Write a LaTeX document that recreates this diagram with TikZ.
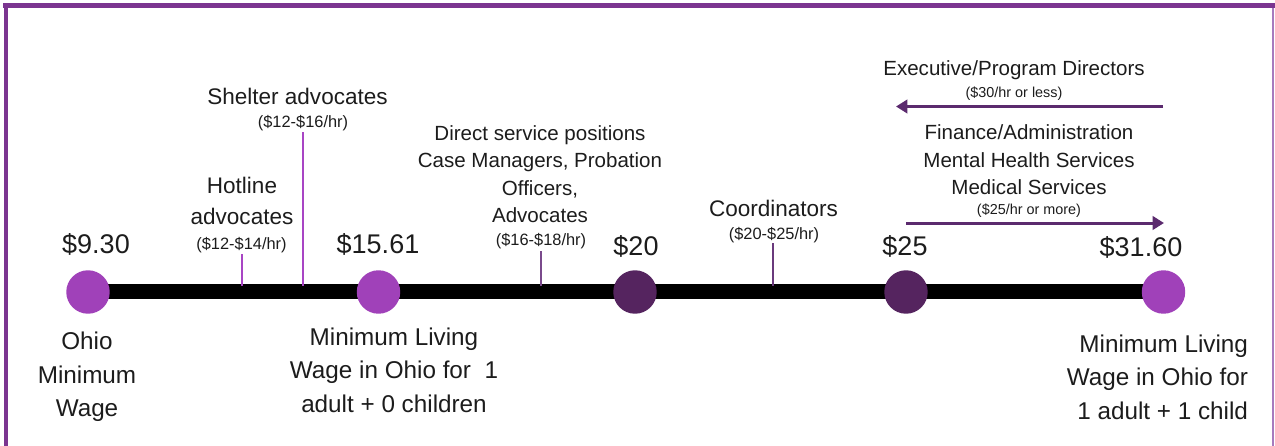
\documentclass[tikz,border=0pt]{standalone}
\usepackage{fontspec}
\setmainfont{Liberation Sans}
\usetikzlibrary{arrows.meta}
\newcommand\myfs[2]{\fontsize{#1}{#2}\selectfont}
\definecolor{frame}{HTML}{7B3590}
\definecolor{frameR}{HTML}{A77BBE}
\definecolor{lightdot}{HTML}{A041B9}
\definecolor{darkdot}{HTML}{55245F}
\definecolor{arrowc}{HTML}{5B2A6E}
\definecolor{tickA}{HTML}{A845C4}
\definecolor{tickB}{HTML}{7A4A8C}
\definecolor{tickC}{HTML}{6A3A7C}
\definecolor{txt}{HTML}{1C1C1C}
\begin{document}
\begin{tikzpicture}[x=0.75pt,y=-0.75pt,
  every node/.style={inner sep=0pt,outer sep=0pt,text=txt},
  value/.style={font=\myfs{20.25pt}{24pt}},
  bottomlbl/.style={font=\myfs{18.2pt}{25.1pt},align=center},
  midbig/.style={font=\myfs{16.9pt}{23.25pt},align=center},
  midtxt/.style={font=\myfs{15.4pt}{20.6pt},align=center},
  rate/.style={font=\myfs{12.3pt}{14pt}},
  ratesm/.style={font=\myfs{10.8pt}{12pt}},
  dot/.style={circle,minimum size=32.6pt,inner sep=0pt},
  lightd/.style={dot,fill=lightdot},
  darkd/.style={dot,fill=darkdot},
  tickline/.style={line width=1.6pt},
  rangearrow/.style={line width=2.25pt,draw=arrowc,-{Triangle[length=8.5pt,width=10pt]}},
]
\useasboundingbox (0,0) rectangle (1275,446);
% frame
\draw[frame,line width=3.75pt] (3,5.5) -- (1275,5.5);
\draw[frame,line width=3pt] (6,4) -- (6,446);
\draw[frameR,line width=1.2pt] (1273,8) -- (1273,446);

% timeline bar
\coordinate (b1) at (88,291.5);
\coordinate (b5) at (1163.5,291.5);
\draw[black,line width=10.9pt] (b1) -- (b5);

% tick lines
\coordinate (hotT) at (242,254);
\coordinate (hotB) at (242,286);
\coordinate (shT) at (303,132);
\coordinate (shB) at (303,286);
\coordinate (dsT) at (541,251);
\coordinate (dsB) at (541,286);
\coordinate (coT) at (773,243);
\coordinate (coB) at (773,286);
\draw[tickA,tickline] (hotT) -- (hotB);
\draw[tickA,tickline] (shT) -- (shB);
\draw[tickB,tickline] (dsT) -- (dsB);
\draw[tickC,tickline] (coT) -- (coB);

% dots
\node[lightd] (c1) at (88,292) {};
\node[lightd] (c2) at (378.5,292) {};
\node[darkd] (c3) at (635,292) {};
\node[darkd] (c4) at (906,292) {};
\node[lightd] (c5) at (1163.5,292) {};

% values
\node[value] (v1) at (96,244) {\$9.30};
\node[value] (v2) at (378,244) {\$15.61};
\node[value] (v3) at (636,246) {\$20};
\node[value] (v4) at (905,246) {\$25};
\node[value] (v5) at (1141,247) {\$31.60};

% bottom labels
\node[bottomlbl] (ohio) at (87,377) {Ohio\\Minimum\\Wage};
\node[bottomlbl] (mlw1) at (394,370) {Minimum Living\\Wage in Ohio for\ \ 1\\adult + 0 children};
\node[bottomlbl,align=right,anchor=east] (mlw2) at (1248,377) {Minimum Living\\Wage in Ohio for\\1 adult + 1 child};

% job labels
\node[midbig] (hot) at (242,201) {Hotline\\advocates};
\node[rate] (hotr) at (241.5,245) {(\$12-\$14/hr)};
\node[midbig] (shel) at (297.5,96) {Shelter advocates};
\node[rate] (shelr) at (303,123) {(\$12-\$16/hr)};
\node[midtxt] (dsp) at (540,174) {Direct service positions\\Case Managers, Probation\\Officers,\\Advocates};
\node[rate] (dspr) at (541,241) {(\$16-\$18/hr)};
\node[midbig] (coord) at (773.5,208) {Coordinators};
\node[rate] (coordr) at (774,235) {(\$20-\$25/hr)};

% directors
\node[midtxt] (exec) at (1014,70) {Executive/Program Directors};
\node[ratesm] (execr) at (1014,94) {(\$30/hr or less)};
\coordinate (a1s) at (1163,106.5);
\coordinate (a1e) at (896,106.5);
\draw[rangearrow] (a1s) -- (a1e);
\node[midtxt] (fin) at (1029,160) {Finance/Administration\\Mental Health Services\\Medical Services};
\node[ratesm] (finr) at (1029,211) {(\$25/hr or more)};
\coordinate (a2s) at (906,223);
\coordinate (a2e) at (1164,223);
\draw[rangearrow] (a2s) -- (a2e);
\end{tikzpicture}
\end{document}
